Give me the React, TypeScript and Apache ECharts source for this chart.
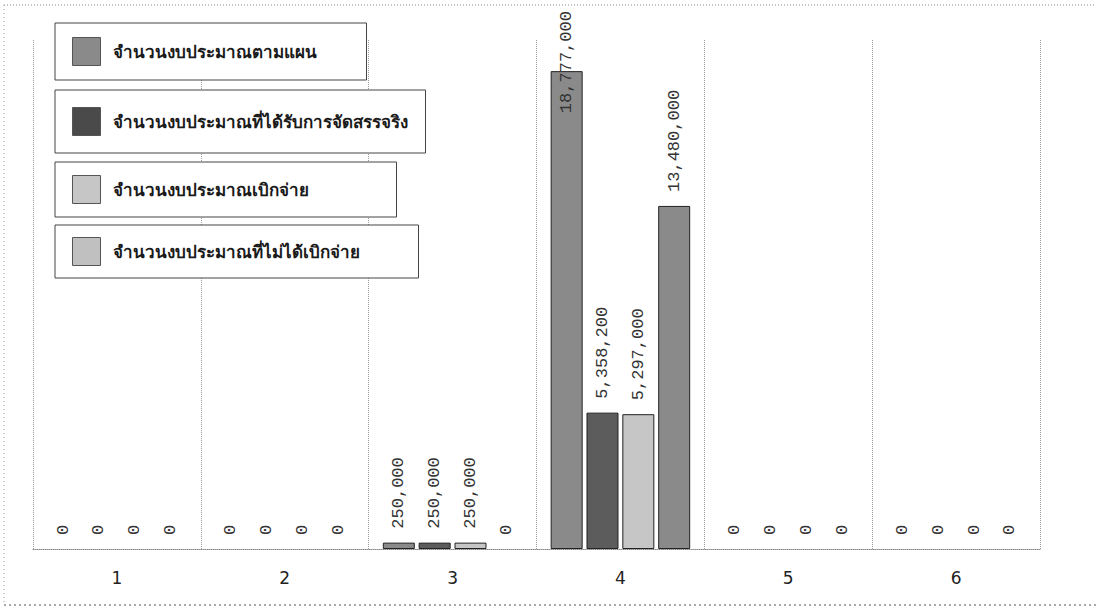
import React, { useEffect, useRef } from "react";
import * as echarts from "echarts";

const categories = ["1", "2", "3", "4", "5", "6"];
const seriesNames = [
  "จำนวนงบประมาณตามแผน",
  "จำนวนงบประมาณที่ได้รับการจัดสรรจริง",
  "จำนวนงบประมาณเบิกจ่าย",
  "จำนวนงบประมาณที่ไม่ได้เบิกจ่าย",
];
const planned = [0, 0, 250000, 18777000, 0, 0];
const allocated = [0, 0, 250000, 5358200, 0, 0];
const disbursed = [0, 0, 250000, 5297000, 0, 0];
const notDisbursed = [0, 0, 0, 13480000, 0, 0];

const barColors = ["#8a8a8a", "#5c5c5c", "#c6c6c6", "#8a8a8a"];
const legendIconColors = ["#8a8a8a", "#4a4a4a", "#c6c6c6", "#c0c0c0"];

const legendBoxes = [
  { top: 23, pad: [14, 50, 14, 17] },
  { top: 90, pad: [17, 18, 17, 17] },
  { top: 162, pad: [13, 88, 13, 17] },
  { top: 225, pad: [12, 59, 12, 17] },
];

export default function App() {
  const ref = useRef<HTMLDivElement>(null);
  useEffect(() => {
    document.body.style.margin = "0";
    const chart = echarts.init(ref.current!, undefined, { renderer: "svg" });
    const seriesData = [planned, allocated, disbursed, notDisbursed];
    const labelFont = {
      show: true,
      position: "top",
      rotate: 90,
      align: "left",
      verticalAlign: "middle",
      distance: 14,
      fontFamily: "'Liberation Mono', monospace",
      fontSize: 17,
      color: "#333",
      formatter: (p: any) => Number(p.value).toLocaleString("en-US"),
    };
    chart.setOption({
      animation: false,
      backgroundColor: "#ffffff",
      grid: { left: 33, right: 56, top: 40, bottom: 59, containLabel: false },
      legend: seriesNames.map((name, i) => ({
        left: 55,
        top: legendBoxes[i].top,
        orient: "vertical",
        padding: legendBoxes[i].pad,
        borderColor: "#444",
        borderWidth: 1,
        backgroundColor: "#fff",
        itemWidth: 28,
        itemHeight: 28,
        icon: "rect",
        selectedMode: false,
        textStyle: {
          fontFamily: "Tahoma, 'Noto Sans', sans-serif",
          fontSize: 17,
          fontWeight: "bold",
          color: "#1a1a1a",
          padding: [0, 0, 0, 7],
        },
        data: [
          {
            name,
            itemStyle: { color: legendIconColors[i], borderColor: "#555", borderWidth: 1 },
          },
        ],
      })),
      xAxis: {
        type: "category",
        data: categories,
        axisLine: { show: true, lineStyle: { color: "#888", type: "dotted", width: 1 } },
        axisTick: { show: false },
        axisLabel: {
          margin: 20,
          fontSize: 17,
          color: "#222",
          fontFamily: "'DejaVu Sans', sans-serif",
        },
        splitLine: { show: true, lineStyle: { color: "#999", type: "dotted", width: 1 } },
      },
      yAxis: {
        type: "value",
        min: 0,
        max: 20000000,
        show: false,
        splitLine: { show: false },
      },
      series: seriesData.map((arr, si) => ({
        name: seriesNames[si],
        type: "bar",
        barWidth: 32,
        barGap: "12%",
        itemStyle: { color: barColors[si], borderColor: "#222", borderWidth: 1 },
        label: labelFont,
        data: arr.map((v, i) => {
          if (v === 0) return { value: v, itemStyle: { borderWidth: 0 } };
          if (si === 0 && i === 3) return { value: v, label: { distance: -42 } };
          return v;
        }),
      })),
      graphic: [
        {
          type: "line",
          z: 101,
          shape: { x1: 4, y1: 5, x2: 1096, y2: 5 },
          style: { stroke: "#888", lineWidth: 1, lineDash: [1, 2] },
        },
        {
          type: "line",
          z: 101,
          shape: { x1: 4, y1: 5, x2: 4, y2: 605 },
          style: { stroke: "#999", lineWidth: 1, lineDash: [1, 3] },
        },
        {
          type: "line",
          z: 101,
          shape: { x1: 4, y1: 605, x2: 1096, y2: 605 },
          style: { stroke: "#555", lineWidth: 1, lineDash: [2, 3] },
        },
      ],
    });
    return () => chart.dispose();
  }, []);
  return (
    <div
      ref={ref}
      style={{ position: "absolute", left: 0, top: 0, width: 1096, height: 608 }}
    />
  );
}
